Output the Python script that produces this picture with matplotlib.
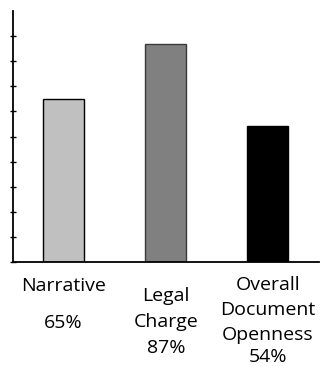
import matplotlib
matplotlib.use("Agg")
import matplotlib.pyplot as plt
from matplotlib.transforms import blended_transform_factory

# Data
categories = [["Narrative"], ["Legal", "Charge"], ["Overall", "Document", "Openness"]]
values = [65, 87, 54]
colors = ["#c0c0c0", "#808080", "#000000"]
edge_colors = ["#000000", "#3a3a3a", "#000000"]
y_ticks = [0, 10, 20, 30, 40, 50, 60, 70, 80, 90]

W, H = 323, 366
DPI = 100
fig = plt.figure(figsize=(W / DPI, H / DPI), dpi=DPI)
ax = fig.add_axes([12.5 / W, 1 - 262 / H, (319 - 12.5) / W, (262 - 11) / H])

x = list(range(len(values)))
ax.bar(x, values, width=0.4, color=colors, edgecolor=edge_colors, linewidth=1.0, zorder=2)

ax.set_xlim(-0.5, 2.5)
ax.set_ylim(0, 100)
ax.set_xticks([])
ax.set_yticks(y_ticks)
ax.set_yticklabels([])
ax.tick_params(axis="y", direction="inout", length=4.5, width=1.0, color="black")
for side in ("top", "right"):
    ax.spines[side].set_visible(False)
ax.spines["left"].set_linewidth(1.3)
ax.spines["bottom"].set_linewidth(1.3)
ax.spines["left"].set_zorder(3)

font = dict(family=["Open Sans", "DejaVu Sans"], fontsize=14, color="black")
trans = blended_transform_factory(ax.transData, fig.transFigure)

# Label layout: (first line baseline px from top, line step px, value baseline px)
layout = [(291, 26, 328), (301, 26, 353), (290, 25, 362)]
for i, (lines, val) in enumerate(zip(categories, values)):
    y0, step, yv = layout[i]
    for j, line in enumerate(lines):
        fig.text(i, 1 - (y0 + j * step) / H, line, transform=trans,
                 ha="center", va="baseline", **font)
    fig.text(i, 1 - yv / H, f"{val}%", transform=trans,
             ha="center", va="baseline", **font)

fig.savefig("out.png", dpi=DPI)
